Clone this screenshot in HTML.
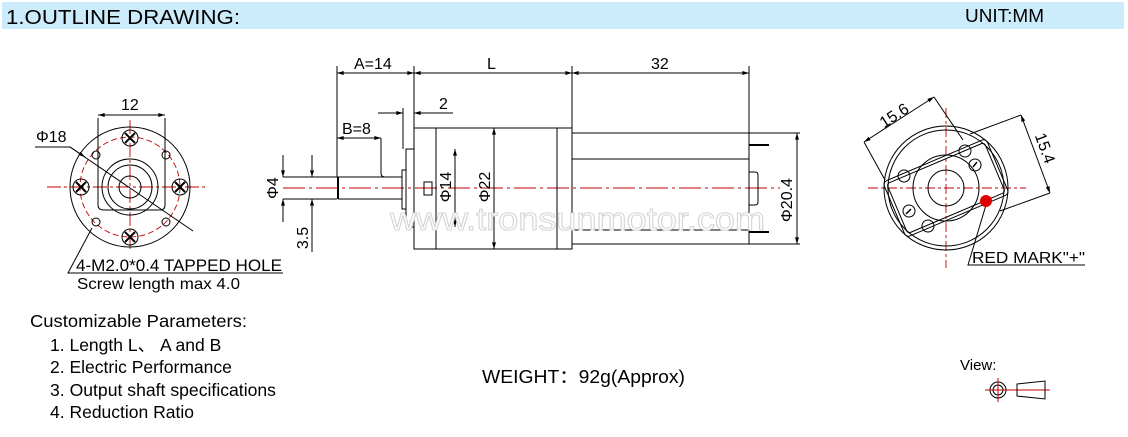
<!DOCTYPE html>
<html><head><meta charset="utf-8"><style>
html,body{margin:0;padding:0;background:#fff;width:1128px;height:437px;overflow:hidden}
svg{display:block}
text{font-family:"Liberation Sans","Noto Sans CJK SC",sans-serif;fill:#000}
</style></head><body>
<svg width="1128" height="437" viewBox="0 0 1128 437" xmlns="http://www.w3.org/2000/svg">
<defs>
<marker id="a" viewBox="0 0 10 6" refX="10" refY="3" markerWidth="8" markerHeight="4" orient="auto-start-reverse"><path d="M0 0L10 3L0 6z" fill="#000"/></marker>
</defs>
<rect x="2" y="2" width="1122" height="27" fill="#ccecfb"/>
<text x="6" y="24" font-size="20" textLength="234" lengthAdjust="spacingAndGlyphs">1.OUTLINE DRAWING:</text>
<text x="965" y="22" font-size="18" textLength="79" lengthAdjust="spacingAndGlyphs">UNIT:MM</text>

<g fill="none" stroke="#000" stroke-width="1">
<!-- LEFT VIEW -->
<g stroke="#c00000" stroke-width="0.9">
<line x1="47" y1="187" x2="207" y2="187" stroke-dasharray="14,3,3,3"/>
<line x1="130" y1="120" x2="130" y2="252" stroke-dasharray="14,3,3,3"/>
<circle cx="130" cy="187" r="50" stroke-dasharray="6,3"/>
</g>
<circle cx="130" cy="187" r="60"/>
<path d="M98 118V205Q98 210 104 210H160Q165 210 165 205V118"/>
<circle cx="130" cy="187" r="28"/>
<circle cx="130" cy="187" r="22"/>
<circle cx="130" cy="187" r="11"/>
<g>
<circle cx="130" cy="138" r="8"/><circle cx="130" cy="237" r="8"/>
<circle cx="81" cy="187" r="8"/><circle cx="180" cy="187" r="8"/>
<circle cx="96" cy="155" r="4"/><circle cx="166" cy="155" r="4"/>
<circle cx="96" cy="222" r="4"/><circle cx="166" cy="222" r="4"/>
</g>
<g stroke-width="2">
<path d="M125 133l10 10M135 133l-10 10M125 232l10 10M135 232l-10 10M76 182l10 10M86 182l-10 10M175 182l10 10M185 182l-10 10"/>
</g>
<line x1="98" y1="115" x2="165" y2="115" marker-start="url(#a)" marker-end="url(#a)"/>
<path d="M35 147H70L193 231"/>
<path d="M283 273H68L92 228"/>
<line x1="70" y1="147" x2="85" y2="157" marker-end="url(#a)"/>

<!-- SIDE VIEW -->
<line x1="283" y1="188" x2="780" y2="188" stroke="#c00000" stroke-dasharray="22,4,3,4"/>
<line x1="337" y1="73" x2="414" y2="73" marker-start="url(#a)" marker-end="url(#a)"/>
<line x1="414" y1="73" x2="572" y2="73" marker-start="url(#a)" marker-end="url(#a)"/>
<line x1="572" y1="73" x2="749" y2="73" marker-start="url(#a)" marker-end="url(#a)"/>
<line x1="337" y1="66" x2="337" y2="177"/>
<line x1="414" y1="66" x2="414" y2="128"/>
<line x1="572" y1="66" x2="572" y2="133"/>
<line x1="749" y1="66" x2="749" y2="133"/>
<line x1="378" y1="113" x2="403" y2="113" marker-end="url(#a)"/>
<line x1="453" y1="113" x2="414" y2="113" marker-end="url(#a)"/>
<line x1="403" y1="108" x2="403" y2="149"/>
<line x1="337" y1="138" x2="381" y2="138" marker-start="url(#a)" marker-end="url(#a)"/>
<path d="M381 138V173Q381 177 385 177"/>
<path d="M337 177H402M338 199H402"/>
<line x1="338" y1="177" x2="338" y2="199" stroke-width="2"/>
<rect x="402" y="170" width="4" height="39"/>
<rect x="406" y="149" width="8" height="78"/>
<rect x="414" y="128" width="158" height="121"/>
<line x1="436" y1="128" x2="436" y2="249"/>
<line x1="557" y1="128" x2="557" y2="249"/>
<rect x="424" y="182" width="8" height="13"/>
<line x1="455" y1="149" x2="455" y2="227" marker-start="url(#a)" marker-end="url(#a)"/>
<line x1="494" y1="128" x2="494" y2="249" marker-start="url(#a)" marker-end="url(#a)"/>
<rect x="572" y="133" width="177" height="111"/>
<line x1="572" y1="159" x2="749" y2="159"/>
<line x1="572" y1="230" x2="749" y2="230"/>
<path d="M749 145H769M749 232H769" stroke-width="2"/>
<path d="M749 172H755Q758 172 758 175V202Q758 205 755 205H749"/>
<path d="M749 133H800M749 244H800"/>
<line x1="797" y1="133" x2="797" y2="244" marker-start="url(#a)" marker-end="url(#a)"/>
<path d="M283 177H337M283 199H337"/>
<line x1="283" y1="155" x2="283" y2="177" marker-end="url(#a)"/>
<line x1="283" y1="222" x2="283" y2="199" marker-end="url(#a)"/>
<line x1="312" y1="155" x2="312" y2="177" marker-end="url(#a)"/>
<line x1="312" y1="252" x2="312" y2="199" marker-end="url(#a)"/>

<!-- RIGHT VIEW -->
<g stroke="#c00000" stroke-width="0.9" stroke-dasharray="10,3,3,3">
<line x1="868" y1="188" x2="1026" y2="188"/>
<line x1="946" y1="108" x2="946" y2="268"/>
</g>
<circle cx="946" cy="188" r="62"/>
<circle cx="946" cy="188" r="58"/>
<circle cx="946" cy="188" r="33"/>
<circle cx="946" cy="188" r="18"/>
<g transform="rotate(-23 946 188)">
<rect x="890" y="158" width="112" height="60" rx="4"/>
<rect x="893" y="161" width="106" height="54" rx="3"/>
</g>
<circle cx="965" cy="151" r="6"/><circle cx="904" cy="176" r="6"/>
<circle cx="928" cy="226" r="6"/><circle cx="975" cy="165" r="6"/>
<circle cx="909" cy="211" r="6"/>
<path d="M973 167l4-5M906 214l5-5" stroke-width="1.5"/>
<line x1="864" y1="142" x2="934" y2="97" marker-start="url(#a)" marker-end="url(#a)"/>
<path d="M864 142L885 180M934 97L963 140"/>
<line x1="1021" y1="115" x2="1050" y2="193" marker-start="url(#a)" marker-end="url(#a)"/>
<path d="M1021 115L970 134M1050 193L1000 211"/>
<path d="M986 205L968 265H1085"/>

<!-- view icon -->
<circle cx="998" cy="390" r="8"/><circle cx="998" cy="390" r="5"/>
<line x1="985" y1="390" x2="1050" y2="390" stroke="#c00000"/>
<line x1="998" y1="378" x2="998" y2="402" stroke="#c00000"/>
<path d="M1017 384L1045 381V399L1017 396Z"/>
</g>
<circle cx="986" cy="201" r="6" fill="#e00000"/>

<text x="390" y="230" font-size="32" textLength="375" lengthAdjust="spacingAndGlyphs" stroke="#d4d4d4" stroke-width="1" style="fill:#fff">www.tronsunmotor.com</text>
<text x="36" y="142" font-size="16">Φ18</text>
<text x="121" y="110" font-size="16">12</text>
<text x="76" y="271" font-size="16.5" textLength="206" lengthAdjust="spacingAndGlyphs">4-M2.0*0.4 TAPPED HOLE</text>
<text x="77" y="289" font-size="16" textLength="163" lengthAdjust="spacingAndGlyphs">Screw length max 4.0</text>
<text x="354" y="69" font-size="16">A=14</text>
<text x="487" y="69" font-size="16">L</text>
<text x="651" y="69" font-size="16">32</text>
<text x="439" y="109" font-size="16">2</text>
<text x="342" y="134" font-size="16">B=8</text>
<text font-size="16" transform="translate(278 188) rotate(-90)" text-anchor="middle">Φ4</text>
<text font-size="16" transform="translate(308 238) rotate(-90)" text-anchor="middle">3.5</text>
<text font-size="16" transform="translate(451 187) rotate(-90)" text-anchor="middle">Φ14</text>
<text font-size="16" transform="translate(490 187) rotate(-90)" text-anchor="middle">Φ22</text>
<text font-size="16" transform="translate(792 200) rotate(-90)" text-anchor="middle">Φ20.4</text>
<text font-size="16" transform="translate(897 120) rotate(-33)" text-anchor="middle">15.6</text>
<text font-size="16" transform="translate(1040 150) rotate(70)" text-anchor="middle">15.4</text>
<text x="972" y="263" font-size="16" textLength="113" lengthAdjust="spacingAndGlyphs">RED MARK"+"</text>
<text x="30" y="327" font-size="17.5" textLength="217" lengthAdjust="spacingAndGlyphs">Customizable Parameters:</text>
<text x="50" y="351" font-size="17.5">1. Length  L、 A and B</text>
<text x="50" y="373" font-size="17.5">2. Electric Performance</text>
<text x="50" y="396" font-size="17.5" textLength="226" lengthAdjust="spacingAndGlyphs">3. Output shaft specifications</text>
<text x="50" y="418" font-size="17.5">4. Reduction Ratio</text>
<text x="482" y="383" font-size="18" textLength="203" lengthAdjust="spacingAndGlyphs">WEIGHT：92g(Approx)</text>
<text x="960" y="370" font-size="15">View:</text>
</svg>
</body></html>
